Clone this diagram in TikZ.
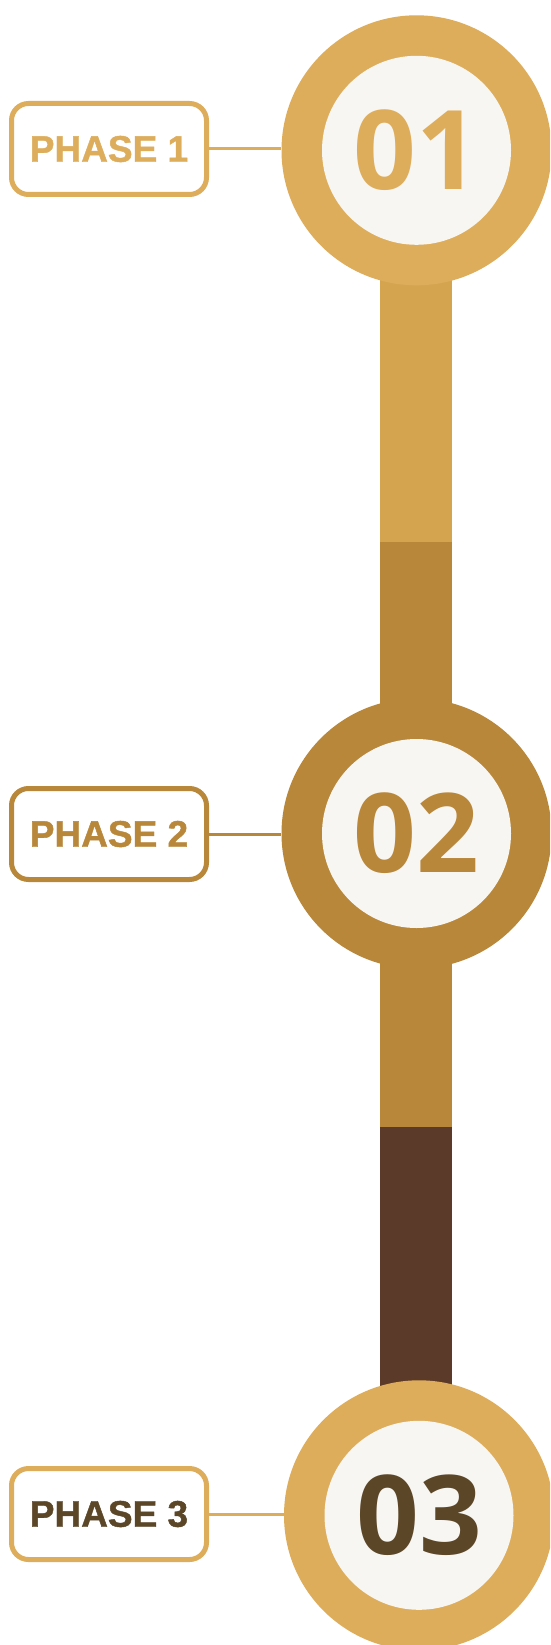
\documentclass[tikz,border=0pt]{standalone}
\usepackage{fontspec}
\setmainfont{Open Sans}
\newfontfamily\tagfont{Liberation Sans}[BoldFeatures={FakeBold=1.2}]
\definecolor{sand}{HTML}{DDAD5C}
\definecolor{ochre}{HTML}{D4A44F}
\definecolor{bronze}{HTML}{B8873A}
\definecolor{cocoa}{HTML}{5C3A29}
\definecolor{ink}{HTML}{5C4628}
\definecolor{paper}{HTML}{F7F6F2}
\begin{document}
\begin{tikzpicture}[x=1pt,y=-1pt,
    ring/.style={circle,fill=#1,minimum size=270pt,inner sep=0pt},
    disc/.style={circle,fill=paper,minimum size=189pt,inner sep=0pt,text=#1,
      font=\fontsize{110}{110}\selectfont\bfseries},
    tag/.style={draw=#1,line width=5pt,rounded corners=17pt,fill=white,
      minimum width=195pt,minimum height=91pt,inner sep=0pt,
      font=\tagfont\fontsize{37}{37}\selectfont\bfseries},
    link/.style={draw=#1,line width=3pt}]
  \clip (0,0) rectangle (550,1645);
  \fill[white] (0,0) rectangle (550,1645);
  % the bar
  \fill[ochre] (380,150) rectangle (452,542);
  \fill[bronze] (380,542) rectangle (452,1127);
  \fill[cocoa] (380,1127) rectangle (452,1515);
  % phase 1
  \node[ring=sand] (ring1) at (416.5,150.3) {};
  \node[disc=sand] (num1) at (ring1) {01};
  \node[tag=sand,text=sand] (tag1) at (109,149) {PHASE 1};
  \draw[link=sand] (tag1.east) -- (tag1.east -| ring1.west);
  % phase 2
  \node[ring=bronze] (ring2) at (416.5,833.5) {};
  \node[disc=bronze] (num2) at (ring2) {02};
  \node[tag=bronze,text=bronze] (tag2) at (109,834) {PHASE 2};
  \draw[link=bronze] (tag2.east) -- (tag2.east -| ring2.west);
  % phase 3
  \node[ring=sand] (ring3) at (419,1515.3) {};
  \node[disc=ink] (num3) at (ring3) {03};
  \node[tag=sand,text=ink] (tag3) at (109,1514) {PHASE 3};
  \draw[link=sand] (tag3.east) -- (tag3.east -| ring3.west);
\end{tikzpicture}
\end{document}
